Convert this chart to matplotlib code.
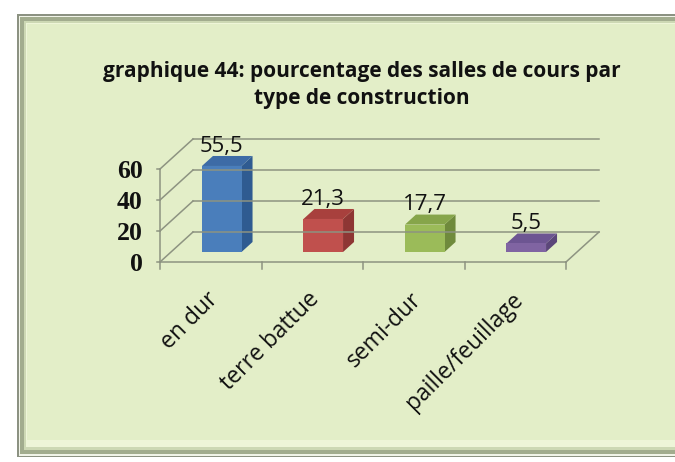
import matplotlib
matplotlib.use("Agg")
import matplotlib.pyplot as plt
from matplotlib.patches import Rectangle, Polygon

# --- data ---
categories = ["en dur", "terre battue", "semi-dur", "paille/feuillage"]
values = [55.5, 21.3, 17.7, 5.5]
value_labels = ["55,5", "21,3", "17,7", "5,5"]
y_ticks = [0, 20, 40, 60]
title = "graphique 44: pourcentage des salles de cours par\ntype de construction"

# --- styling ---
front_colors = ["#4a7ebb", "#c0504d", "#9bbb59", "#8064a2"]
side_colors = ["#2f5b91", "#8e3634", "#6f8a3c", "#5b467a"]
top_colors = ["#3d6ba6", "#a8403d", "#86a54a", "#6d5592"]
grid_color = "#8d9381"
bg_fill = "#e3eec8"

W, H = 675, 462
fig = plt.figure(figsize=(W / 100, H / 100), dpi=100)
fig.patch.set_facecolor("white")

# frame drawn in pixel units
bg = fig.add_axes([0, 0, 1, 1])
bg.set_xlim(0, W)
bg.set_ylim(H, 0)
bg.axis("off")
layers = [
    (17, 14, 457, "#8c9282"),
    (18.5, 15.5, 455.5, "#f1f4e8"),
    (20, 17, 454, "#a2ac8e"),
    (24, 21, 450, "#cdd8b4"),
    (26, 23, 447, "#eef5d8"),
    (27, 24, 440, bg_fill),
]
for x0, y0, y1, c in layers:
    bg.add_patch(Rectangle((x0, y0), W + 20 - x0, y1 - y0, facecolor=c,
                           edgecolor="none"))

# chart: x in category units, y in value units, oblique depth offset
ax = fig.add_axes([0, 0, 1, 1])
ax.patch.set_alpha(0)
ax.axis("off")
px_per_cat = 101.5
px_per_val = 1.55
x_origin, y_origin = 160, 262
ax.set_xlim(-x_origin / px_per_cat, (W - x_origin) / px_per_cat)
ax.set_ylim((y_origin - H) / px_per_val, y_origin / px_per_val)

n = len(categories)
DX = 33 / px_per_cat      # depth offset along x
DY = 30 / px_per_val      # depth offset along y
lw = 1.1

# back wall gridlines and side diagonals
for t in y_ticks:
    ax.plot([DX, n + DX], [t + DY, t + DY], color=grid_color, lw=lw)
    ax.plot([0, DX], [t, t + DY], color=grid_color, lw=lw)
    ax.plot([-0.03, 0], [t, t], color=grid_color, lw=lw)
    ax.text(-0.17, t - 1.5, str(t), ha="right", va="center", fontsize=18.5,
            family="Liberation Serif", fontweight="bold", color="#111111")

# front axes and floor edge
ax.plot([0, 0], [0, y_ticks[-1]], color=grid_color, lw=lw)
ax.plot([0, n], [0, 0], color=grid_color, lw=lw)
ax.plot([n, n + DX], [0, DY], color=grid_color, lw=lw)
for k in range(n + 1):
    ax.plot([k, k], [0, -4.5], color=grid_color, lw=lw)

# bars
bw = 0.39
f = 1 / 3
for i, (v, lab) in enumerate(zip(values, value_labels)):
    x0 = i + 0.5 - bw / 2 + DX * f
    x1 = x0 + bw
    z0 = DY * f
    top = v + z0
    ddx, ddy = DX * f, DY * f
    ax.add_patch(Polygon([(x1, z0), (x1 + ddx, z0 + ddy), (x1 + ddx, top + ddy),
                          (x1, top)], closed=True, facecolor=side_colors[i],
                         edgecolor="none"))
    ax.add_patch(Polygon([(x0, top), (x1, top), (x1 + ddx, top + ddy),
                          (x0 + ddx, top + ddy)], closed=True,
                         facecolor=top_colors[i], edgecolor="none"))
    ax.add_patch(Polygon([(x0, z0), (x1, z0), (x1, top), (x0, top)], closed=True,
                         facecolor=front_colors[i], edgecolor="none"))
    ax.annotate(lab, xy=((x0 + x1) / 2, top + ddy), xytext=(0, 7),
                textcoords="offset points", ha="center", va="center",
                fontsize=16, family="Open Sans", color="#111111")

# category labels
for i, c in enumerate(categories):
    ax.annotate(c, xy=(i + 0.5, 0), xytext=(4, -34), textcoords="offset pixels",
                ha="right", va="center", rotation=45, rotation_mode="anchor",
                fontsize=16.5, family="Open Sans", color="#111111")

bg.text(362, 85, title, ha="center", va="center", fontsize=15,
        family="Open Sans", fontweight="bold", color="#111111",
        linespacing=1.35)

fig.savefig("out.png", dpi=100)
